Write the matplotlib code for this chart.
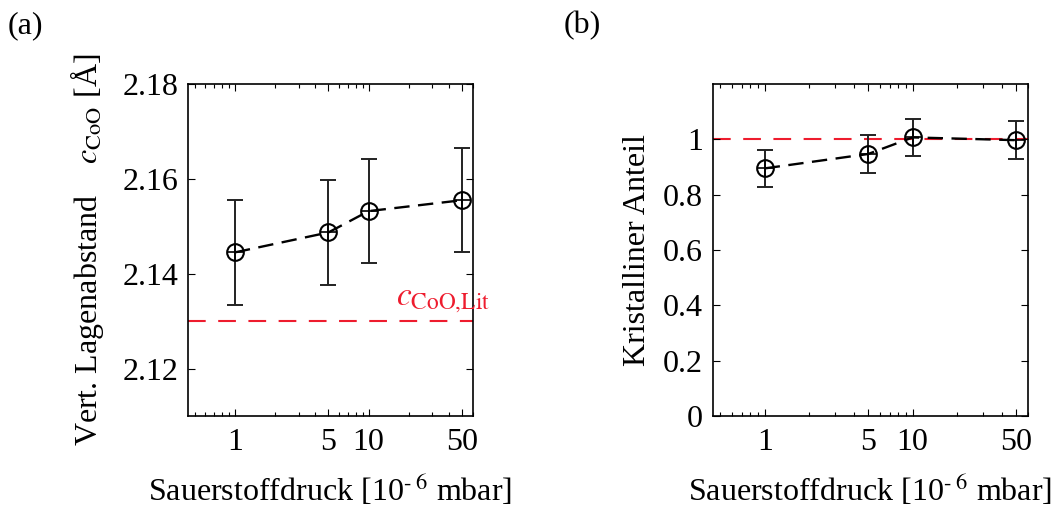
import matplotlib
matplotlib.use('Agg')
import matplotlib.pyplot as plt
from matplotlib.ticker import FixedLocator, NullFormatter

plt.rcParams['font.family'] = ['Liberation Serif', 'DejaVu Serif']
plt.rcParams['mathtext.fontset'] = 'stix'

# Sauerstoffdruck in 10^-6 mbar
pressure = [1, 5, 10, 50]
xticks = [1, 5, 10, 50]
xlabels = ['1', '5', '10', '50']

# (a) vertikaler Lagenabstand c_CoO [Å]
c_coo = [2.1445, 2.1487, 2.1532, 2.1555]
c_err = [0.011, 0.011, 0.011, 0.011]
c_lit = 2.130

# (b) kristalliner Anteil
anteil = [0.895, 0.947, 1.007, 0.997]
anteil_err = [0.068, 0.070, 0.067, 0.069]
anteil_ref = 1.0

FS = 23
fig = plt.figure(figsize=(10.53, 5.07), dpi=100)
ax1 = fig.add_axes([0.1785, 0.1795, 0.2707, 0.6548])
ax2 = fig.add_axes([0.6768, 0.1795, 0.2997, 0.6548])


def style(ax):
    ax.set_xscale('log')
    ax.set_xlim(0.445, 60.4)
    ax.xaxis.set_major_locator(FixedLocator(xticks))
    ax.set_xticklabels(xlabels)
    ax.xaxis.set_minor_formatter(NullFormatter())
    ax.tick_params(which='both', direction='in', top=True, right=True,
                   labelsize=FS, width=0.8)
    ax.tick_params(axis='x', pad=9)
    ax.tick_params(axis='y', pad=7)
    ax.tick_params(which='major', length=5)
    ax.tick_params(which='minor', length=3)
    for s in ax.spines.values():
        s.set_linewidth(1.2)
    ax.set_xlabel(r'Sauerstoffdruck [10$^{\text{-}\;6}$ mbar]', fontsize=FS, labelpad=11)


def draw(ax, y, yerr):
    ax.plot(pressure, y, color='k', ls=(0, (6.5, 3.6)), lw=1.7, zorder=3)
    ax.errorbar(pressure, y, yerr=yerr, fmt='none', ecolor='#222222',
                elinewidth=1.4, capsize=6, capthick=1.4, zorder=2)
    ax.plot(pressure, y, 'o', mfc='none', mec='k', ms=12, mew=1.5, zorder=4)
    ax.plot(pressure, y, '+', mec='k', ms=12, mew=1.2, zorder=4)


# (a)
draw(ax1, c_coo, c_err)
ax1.axhline(c_lit, color='#ee1c2e', ls=(0, (8.5, 6)), lw=1.5, zorder=1)
ax1.set_ylim(2.11, 2.18)
ax1.set_yticks([2.12, 2.14, 2.16, 2.18])
ax1.set_yticklabels(['2.12', '2.14', '2.16', '2.18'])
style(ax1)
ax1.set_ylabel(r'Vert. Lagenabstand    $c_{\mathrm{CoO}}$ [Å]', fontsize=FS, labelpad=12)
ax1.text(16.0, 2.1333, r'$c_{\mathrm{CoO{,}Lit}}$', color='#ee1c2e', fontsize=FS + 1)

# (b)
draw(ax2, anteil, anteil_err)
ax2.axhline(anteil_ref, color='#ee1c2e', ls=(0, (8.5, 6)), lw=1.5, zorder=1)
ax2.set_ylim(0, 1.2)
ax2.set_yticks([0, 0.2, 0.4, 0.6, 0.8, 1.0])
ax2.set_yticklabels(['0', '0.2', '0.4', '0.6', '0.8', '1'])
style(ax2)
ax2.set_ylabel('Kristalliner Anteil', fontsize=FS, labelpad=8)

fig.text(0.007, 0.935, '(a)', fontsize=FS)
fig.text(0.535, 0.935, '(b)', fontsize=FS)

fig.savefig('out.png', dpi=100)
